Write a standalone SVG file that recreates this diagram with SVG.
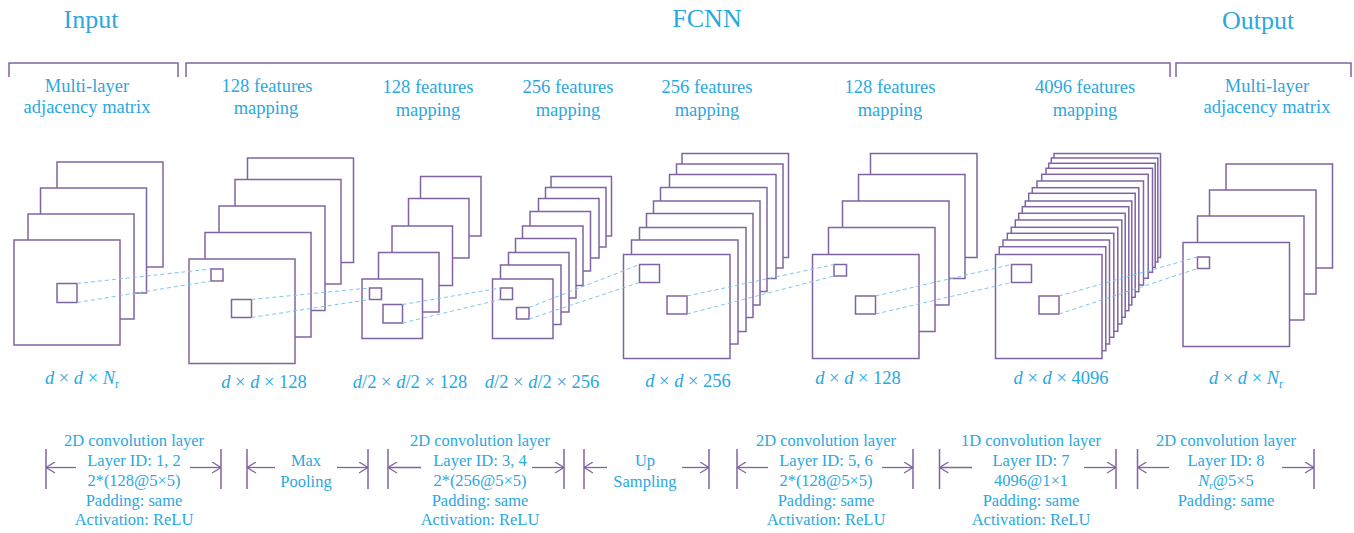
<svg xmlns="http://www.w3.org/2000/svg" width="1354" height="533" viewBox="0 0 1354 533">
<defs>
<style>
.t{font-family:"Liberation Serif","Times New Roman",serif;fill:#2aa8df;text-anchor:middle}
.h{font-size:26px}
.l{font-size:18.5px}
.b{font-size:16.5px}
.i{font-style:italic}
.f{fill:#fff;stroke:#8064a2;stroke-width:1.5}
.s{fill:none;stroke:#8064a2;stroke-width:1.5}
.br{fill:none;stroke:#8064a2;stroke-width:1.5}
.d{fill:none;stroke:#7cc6ec;stroke-width:1;stroke-dasharray:4 3}
.a{fill:none;stroke:#8064a2;stroke-width:1.3;marker-end:url(#ah)}
</style>
<marker id="ah" viewBox="0 0 10 12" refX="10" refY="6" markerWidth="10" markerHeight="12" markerUnits="userSpaceOnUse" orient="auto">
<path d="M1,0.5 L10,6 L1,11.5" fill="none" stroke="#8064a2" stroke-width="1.3"/>
</marker>
</defs>
<rect width="1354" height="533" fill="#fff"/>

<g id="titles">
<text class="t h" x="91" y="28">Input</text>
<text class="t h" x="707" y="27">FCNN</text>
<text class="t h" x="1258" y="29">Output</text>
<path class="br" d="M9,77 V63 H178 V77"/>
<path class="br" d="M186,77 V63 H1170 V77"/>
<path class="br" d="M1176,77 V63 H1351 V77"/>
</g>

<g id="labels-top">
<text class="t l" x="87" y="92">Multi-layer</text>
<text class="t l" x="87" y="113">adjacency matrix</text>
<text class="t l" x="267" y="92">128 features</text>
<text class="t l" x="266" y="114">mapping</text>
<text class="t l" x="428" y="93">128 features</text>
<text class="t l" x="428" y="116">mapping</text>
<text class="t l" x="568" y="93">256 features</text>
<text class="t l" x="568" y="116">mapping</text>
<text class="t l" x="707" y="93">256 features</text>
<text class="t l" x="707" y="116">mapping</text>
<text class="t l" x="890" y="93">128 features</text>
<text class="t l" x="890" y="116">mapping</text>
<text class="t l" x="1085" y="93">4096 features</text>
<text class="t l" x="1085" y="116">mapping</text>
<text class="t l" x="1267" y="92">Multi-layer</text>
<text class="t l" x="1267" y="113">adjacency matrix</text>
</g>

<g id="stack-input">
<rect class="f" x="57" y="162" width="106" height="105"/>
<rect class="f" x="40.5" y="188" width="106" height="105"/>
<rect class="f" x="28" y="214" width="106" height="105"/>
<rect class="f" x="14" y="240" width="106" height="105"/>
<rect class="s" x="57" y="283.5" width="20" height="19"/>
</g>

<g id="stack-128a">
<rect class="f" x="247.5" y="158" width="106" height="104.5"/>
<rect class="f" x="235" y="179.5" width="106" height="104.5"/>
<rect class="f" x="219" y="206" width="106" height="104.5"/>
<rect class="f" x="205" y="232.5" width="106" height="104.5"/>
<rect class="f" x="189" y="259" width="106" height="104.5"/>
<rect class="s" x="211" y="269" width="12" height="12"/>
<rect class="s" x="231.5" y="299.5" width="20" height="18"/>
</g>

<g id="stack-128b">
<rect class="f" x="420.5" y="176.5" width="60.5" height="59.5"/>
<rect class="f" x="408.5" y="198.5" width="60.5" height="59.5"/>
<rect class="f" x="392" y="226" width="60.5" height="59.5"/>
<rect class="f" x="378.5" y="252.5" width="60.5" height="59.5"/>
<rect class="f" x="362" y="279" width="60.5" height="59.5"/>
<rect class="s" x="369.5" y="288" width="12" height="11.5"/>
<rect class="s" x="383" y="304.5" width="19.5" height="18.5"/>
</g>

<g id="stack-256a">
<rect class="f" x="551" y="176.5" width="60.5" height="59.5"/>
<rect class="f" x="545.5" y="187.5" width="60.5" height="59.5"/>
<rect class="f" x="538.5" y="198.5" width="60.5" height="59.5"/>
<rect class="f" x="530" y="211.5" width="60.5" height="59.5"/>
<rect class="f" x="522.5" y="226" width="60.5" height="59.5"/>
<rect class="f" x="515.5" y="238.5" width="60.5" height="59.5"/>
<rect class="f" x="508.5" y="252.5" width="60.5" height="59.5"/>
<rect class="f" x="500.5" y="265" width="60.5" height="59.5"/>
<rect class="f" x="492.5" y="279" width="60.5" height="59.5"/>
<rect class="s" x="500.5" y="288" width="12" height="11.5"/>
<rect class="s" x="516.5" y="307.5" width="12.5" height="11.5"/>
</g>

<g id="stack-256b">
<rect class="f" x="682" y="153.5" width="106.5" height="104"/>
<rect class="f" x="676.5" y="164" width="106.5" height="104"/>
<rect class="f" x="669.5" y="174.5" width="106.5" height="104"/>
<rect class="f" x="660.5" y="187.5" width="106.5" height="104"/>
<rect class="f" x="653.5" y="201" width="106.5" height="104"/>
<rect class="f" x="646.5" y="213.5" width="106.5" height="104"/>
<rect class="f" x="639.5" y="227.5" width="106.5" height="104"/>
<rect class="f" x="631.5" y="240" width="106.5" height="104"/>
<rect class="f" x="623.5" y="254.5" width="106.5" height="104"/>
<rect class="s" x="639.5" y="264.5" width="20" height="18"/>
<rect class="s" x="667" y="296" width="20" height="18"/>
</g>

<g id="stack-128c">
<rect class="f" x="870.5" y="153.5" width="106.5" height="104"/>
<rect class="f" x="858.5" y="174.5" width="106.5" height="104"/>
<rect class="f" x="842.5" y="201" width="106.5" height="104"/>
<rect class="f" x="828.5" y="227.5" width="106.5" height="104"/>
<rect class="f" x="812.5" y="254.5" width="106.5" height="104"/>
<rect class="s" x="834" y="264.5" width="12.5" height="11.5"/>
<rect class="s" x="855.5" y="296" width="20" height="18"/>
</g>

<g id="stack-4096">
<rect class="f" x="1054" y="153.5" width="106.5" height="104"/>
<rect class="f" x="1051.3" y="158" width="106.5" height="104"/>
<rect class="f" x="1048.7" y="163.3" width="106.5" height="104"/>
<rect class="f" x="1046" y="168.3" width="106.5" height="104"/>
<rect class="f" x="1041.7" y="174.3" width="106.5" height="104"/>
<rect class="f" x="1037" y="181" width="106.5" height="104"/>
<rect class="f" x="1032.3" y="187.7" width="106.5" height="104"/>
<rect class="f" x="1028.7" y="193.3" width="106.5" height="104"/>
<rect class="f" x="1025.3" y="201" width="106.5" height="104"/>
<rect class="f" x="1022.3" y="206.7" width="106.5" height="104"/>
<rect class="f" x="1018.7" y="213.3" width="106.5" height="104"/>
<rect class="f" x="1015.3" y="220" width="106.5" height="104"/>
<rect class="f" x="1011.3" y="227.3" width="106.5" height="104"/>
<rect class="f" x="1007.3" y="233.3" width="106.5" height="104"/>
<rect class="f" x="1003" y="240" width="106.5" height="104"/>
<rect class="f" x="999.3" y="246.7" width="106.5" height="104"/>
<rect class="f" x="995.5" y="254.5" width="106.5" height="104"/>
<rect class="s" x="1011.5" y="264.5" width="20" height="18"/>
<rect class="s" x="1039" y="296" width="20" height="18"/>
</g>

<g id="stack-output">
<rect class="f" x="1226" y="164" width="106.5" height="104"/>
<rect class="f" x="1209.5" y="190" width="106.5" height="104"/>
<rect class="f" x="1197.5" y="216" width="106.5" height="104"/>
<rect class="f" x="1183" y="242.5" width="106.5" height="104"/>
<rect class="s" x="1197.5" y="257" width="12" height="11.5"/>
</g>

<g id="connectors">
<line class="d" x1="77" y1="283.5" x2="211" y2="269"/>
<line class="d" x1="77" y1="302.5" x2="211" y2="281"/>
<line class="d" x1="251.5" y1="299.5" x2="369.5" y2="288"/>
<line class="d" x1="251.5" y1="317.5" x2="369.5" y2="299.5"/>
<line class="d" x1="402.5" y1="304.5" x2="500.5" y2="288"/>
<line class="d" x1="402.5" y1="323" x2="500.5" y2="299.5"/>
<line class="d" x1="529" y1="307.5" x2="639.5" y2="264.5"/>
<line class="d" x1="529" y1="319" x2="639.5" y2="282.5"/>
<line class="d" x1="687" y1="296" x2="834" y2="264.5"/>
<line class="d" x1="687" y1="314" x2="834" y2="276"/>
<line class="d" x1="875.5" y1="296" x2="1011.5" y2="264.5"/>
<line class="d" x1="875.5" y1="314" x2="1011.5" y2="282.5"/>
<line class="d" x1="1059" y1="296" x2="1197.5" y2="257"/>
<line class="d" x1="1059" y1="314" x2="1197.5" y2="268.5"/>
</g>

<g id="dims">
<text class="t l" x="82" y="384"><tspan class="i">d</tspan> × <tspan class="i">d</tspan> × <tspan class="i">N</tspan><tspan font-size="12" dy="4">r</tspan></text>
<text class="t l" x="264" y="388"><tspan class="i">d</tspan> × <tspan class="i">d</tspan> × 128</text>
<text class="t l" x="410" y="388"><tspan class="i">d</tspan>/2 × <tspan class="i">d</tspan>/2 × 128</text>
<text class="t l" x="542" y="388"><tspan class="i">d</tspan>/2 × <tspan class="i">d</tspan>/2 × 256</text>
<text class="t l" x="688" y="387"><tspan class="i">d</tspan> × <tspan class="i">d</tspan> × 256</text>
<text class="t l" x="858" y="384"><tspan class="i">d</tspan> × <tspan class="i">d</tspan> × 128</text>
<text class="t l" x="1061" y="384"><tspan class="i">d</tspan> × <tspan class="i">d</tspan> × 4096</text>
<text class="t l" x="1246" y="384"><tspan class="i">d</tspan> × <tspan class="i">d</tspan> × <tspan class="i">N</tspan><tspan font-size="12" dy="4">r</tspan></text>
</g>

<g id="layer-1-2">
<path class="s" d="M46,449 V489 M221,449 V489"/>
<path class="a" d="M76,467.5 H46"/>
<path class="a" d="M190,467.5 H221"/>
<text class="t b" x="134" y="446">2D convolution layer</text>
<text class="t b" x="134" y="466">Layer ID: 1, 2</text>
<text class="t b" x="134" y="486">2*(128@5×5)</text>
<text class="t b" x="134" y="506">Padding: same</text>
<text class="t b" x="134" y="525">Activation: ReLU</text>
</g>

<g id="max-pooling">
<path class="s" d="M247,449 V489 M368,449 V489"/>
<path class="a" d="M275,467.5 H247"/>
<path class="a" d="M337,467.5 H368"/>
<text class="t b" x="306" y="466">Max</text>
<text class="t b" x="306" y="487">Pooling</text>
</g>

<g id="layer-3-4">
<path class="s" d="M388,449 V489 M564,449 V489"/>
<path class="a" d="M421,467.5 H388"/>
<path class="a" d="M532,467.5 H564"/>
<text class="t b" x="480" y="446">2D convolution layer</text>
<text class="t b" x="480" y="466">Layer ID: 3, 4</text>
<text class="t b" x="480" y="486">2*(256@5×5)</text>
<text class="t b" x="480" y="506">Padding: same</text>
<text class="t b" x="480" y="525">Activation: ReLU</text>
</g>

<g id="up-sampling">
<path class="s" d="M584,449 V489 M709,449 V489"/>
<path class="a" d="M607,467.5 H584"/>
<path class="a" d="M682,467.5 H709"/>
<text class="t b" x="645" y="466">Up</text>
<text class="t b" x="645" y="487">Sampling</text>
</g>

<g id="layer-5-6">
<path class="s" d="M737,449 V489 M913,449 V489"/>
<path class="a" d="M768,467.5 H737"/>
<path class="a" d="M882,467.5 H913"/>
<text class="t b" x="826" y="446">2D convolution layer</text>
<text class="t b" x="826" y="466">Layer ID: 5, 6</text>
<text class="t b" x="826" y="486">2*(128@5×5)</text>
<text class="t b" x="826" y="506">Padding: same</text>
<text class="t b" x="826" y="525">Activation: ReLU</text>
</g>

<g id="layer-7">
<path class="s" d="M939.5,449 V489 M1116,449 V489"/>
<path class="a" d="M972,467.5 H939.5"/>
<path class="a" d="M1084,467.5 H1116"/>
<text class="t b" x="1031" y="446">1D convolution layer</text>
<text class="t b" x="1031" y="466">Layer ID: 7</text>
<text class="t b" x="1031" y="486">4096@1×1</text>
<text class="t b" x="1031" y="506">Padding: same</text>
<text class="t b" x="1031" y="525">Activation: ReLU</text>
</g>

<g id="layer-8">
<path class="s" d="M1137.5,449 V489 M1314,449 V489"/>
<path class="a" d="M1169,467.5 H1137.5"/>
<path class="a" d="M1282,467.5 H1314"/>
<text class="t b" x="1226" y="446">2D convolution layer</text>
<text class="t b" x="1226" y="466">Layer ID: 8</text>
<text class="t b" x="1226" y="486"><tspan class="i">N</tspan><tspan font-size="11" dy="3">r</tspan><tspan dy="-3">@5×5</tspan></text>
<text class="t b" x="1226" y="506">Padding: same</text>
</g>
</svg>
